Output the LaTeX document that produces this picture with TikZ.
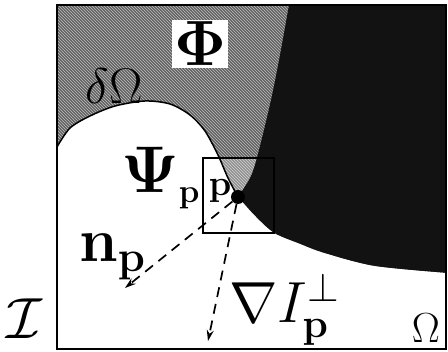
\RequirePackage{fix-cm}
\documentclass[tikz,border=0pt]{standalone}
\usepackage{amsmath}
\usetikzlibrary{arrows.meta,patterns}
\newcommand{\fsz}[1]{\fontsize{#1}{#1}\selectfont}

\begin{document}
\begin{tikzpicture}[x=1pt, y=-1pt, every node/.style={inner sep=0pt},
  sym/.style={anchor=base west},
  flow/.style={dash pattern=on 10pt off 7pt, line width=1.7pt, -{Stealth[length=11pt, width=7pt]}}]
\path[use as bounding box] (0,0) rectangle (448,352);
% source region Phi
\fill[black!62] (57,5) rectangle (446,349);
\fill[pattern=north west lines, pattern color=white!75!black] (57,5) rectangle (446,349);
\fill[white, opacity=0.3] (203,158) rectangle (274,233);
% dark region
\fill[black!93] (446,5) -- plot[smooth] coordinates {(289,5) (280,55) (271,100) (259,150) (251,176) (238,197)}
  -- plot[smooth] coordinates {(238,197) (255,216) (274,233) (300,244) (324,253) (374,266) (446,273)} -- cycle;
% target region Omega
\fill[white] plot[smooth] coordinates {(57,147) (70,128) (90,116) (115,106) (145,101) (170,104) (190,115) (205,131) (218,155) (228,178) (238,197)}
  -- plot[smooth] coordinates {(238,197) (255,216) (274,233) (300,244) (324,253) (374,266) (446,273)}
  -- (446,349) -- (57,349) -- cycle;
\draw[line width=1.5pt] plot[smooth] coordinates {(57,147) (70,128) (90,116) (115,106) (145,101) (170,104) (190,115) (205,131) (218,155) (228,178) (238,197)};
\draw[line width=1.8pt] (57,5) rectangle (446,349);

\node[draw, line width=1.5pt, minimum width=71pt, minimum height=75pt] (patch) at (238.5,195.5) {};
\node[circle, fill=black, minimum size=14pt] (p) at (238,197) {};
\coordinate (nend) at (125,288);
\coordinate (gend) at (208,341);
\draw[flow] (p) -- (nend);
\draw[flow] (p) -- (gend);

\node[fill=white, inner sep=2pt, font=\fsz{64}] (phi) at (200,44) {$\mathbf{\Phi}$};
\node[font=\fsz{50}] (border) at (114,86) {$\delta\Omega$};
\node[sym, font=\fsz{66}] (psi) at (121,193) {$\mathbf{\Psi}_{\scriptscriptstyle\mathbf{p}}$};
\node[anchor=base, font=\fsz{36}] (plabel) at (220,196) {$\mathbf{p}$};
\node[sym, font=\fsz{62}] (normal) at (79,262) {$\mathbf{n}_{\mathbf{p}}$};
\node[sym, font=\fsz{58}] (isophote) at (229,323) {$\nabla I_{\mathbf{p}}^{\perp}$};
\node[sym, font=\fsz{58}] (image) at (6,339) {$\mathcal{I}$};
\node[anchor=base east, font=\fsz{42}] (omega) at (440,343) {$\Omega$};
\end{tikzpicture}
\end{document}
